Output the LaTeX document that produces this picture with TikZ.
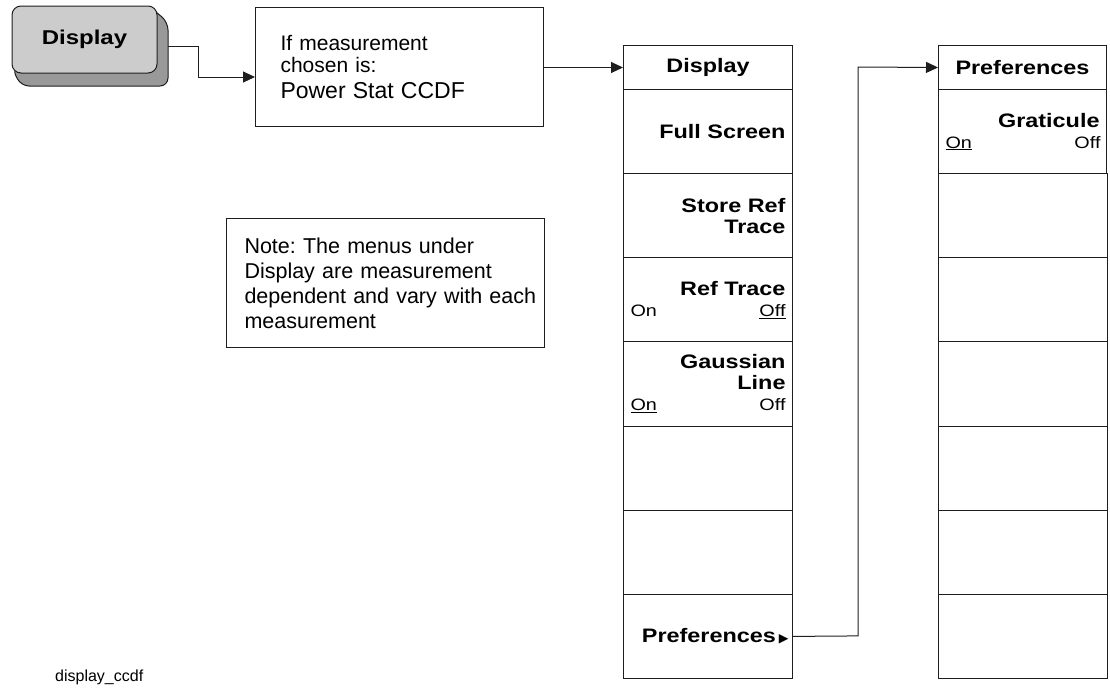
\documentclass[tikz,border=0pt]{standalone}
\usepackage{fontspec}
\setmainfont{Liberation Sans}
\newfontfamily\menufont[FakeStretch=1.2]{Liberation Sans}
\newfontfamily\symfont{DejaVu Sans}
\usetikzlibrary{arrows.meta,calc}
\definecolor{keyfront}{RGB}{204,204,204}
\definecolor{keyshadow}{RGB}{153,153,153}
\definecolor{edge}{RGB}{30,30,30}
\tikzset{
  conn/.style={draw=edge, line width=1},
  arr/.style={conn, -{Triangle[length=12,width=11]}},
  plainbox/.style={draw=edge, line width=1, anchor=north west, inner ysep=0, font=\frenchspacing\fontsize{21.5}{25}\selectfont, align=left},
  menuhead/.style={draw=edge, line width=1, anchor=north west, minimum width=169, minimum height=44, inner sep=0,
     font=\menufont\bfseries\fontsize{19.5}{21}\selectfont},
  softkey/.style={draw=edge, line width=1, anchor=north west, minimum width=169, minimum height=84.14,
     inner xsep=7, inner ysep=0, text width=155, align=right,
     font=\menufont\bfseries\fontsize{19.5}{21}\selectfont},
  hardkey/.style={draw=edge, line width=1, fill=keyfront, rounded corners=9, minimum width=145, minimum height=67,
     inner sep=0, font=\menufont\bfseries\fontsize{20}{22}\selectfont},
  caption/.style={anchor=base west, inner sep=0, font=\fontsize{16}{18}\selectfont}
}
\newcommand{\onoff}[2]{\par\makebox[155pt]{\menufont\mdseries\fontsize{16.5}{21}\selectfont #1\hfill #2}}
\begin{document}
\begin{tikzpicture}[x=1pt,y=-1pt]
\useasboundingbox (0,0) rectangle (1110,694);
% hardkey with 3D shadow
\filldraw[draw=edge, line width=1, fill=keyshadow, rounded corners=8]
  (150,7) -- (168,22) -- (168,86) -- (21,86) -- (12,68) -- cycle;
\node[hardkey] (hk) at (84.5,39.5) {Display};
\coordinate (hkout) at (168,46);
% info box
\node[plainbox, minimum width=288, minimum height=119, inner xsep=25, text width=238] (info) at (255,7)
  {\fontsize{21}{22}\selectfont If measurement\\chosen is:\\[1pt]{\fontsize{23}{25}\selectfont Power Stat CCDF}};
\coordinate (infoin) at (255,77);
\draw[arr] (hkout) -- (198,46) -- (198,77) -- (infoin);
% note box
\node[plainbox, minimum width=318, minimum height=129, inner xsep=18, text width=282] (note) at (226,218)
  {Note: The menus under\\Display are measurement\\dependent~and~vary~with~each\\measurement};
% Display menu
\node[menuhead] (dm0) at (623,45) {Display};
\node[softkey] (dm1) at (623,89) {Full Screen};
\node[softkey] (dm2) at (623,173.14) {Store Ref\\Trace};
\node[softkey] (dm3) at (623,257.28) {Ref Trace\onoff{On}{\underline{Off}}};
\node[softkey] (dm4) at (623,341.42) {Gaussian\\Line\onoff{\underline{On}}{Off}};
\node[softkey] (dm5) at (623,425.56) {};
\node[softkey] (dm6) at (623,509.70) {};
\node[softkey, inner xsep=4, text width=161] (dm7) at (623,593.84) {Preferences\hspace{3pt}{\symfont\fontsize{12.5}{12}\selectfont ▶}};
% Preferences menu
\node[menuhead, minimum width=168] (pm0) at (938,45) {Preferences};
\node[softkey, minimum width=168, text width=154] (pm1) at (938,89) {Graticule\onoff{\underline{On}}{Off}};
\node[softkey, minimum width=168] (pm2) at (938,173.14) {};
\node[softkey, minimum width=168] (pm3) at (938,257.28) {};
\node[softkey, minimum width=168] (pm4) at (938,341.42) {};
\node[softkey, minimum width=168] (pm5) at (938,425.56) {};
\node[softkey, minimum width=168] (pm6) at (938,509.70) {};
\node[softkey, minimum width=168] (pm7) at (938,593.84) {};
% connectors
\draw[arr] (info.east |- dm0.west) -- (dm0.west);
\draw[arr] (dm7.east) -- (858,635.9) -- (858,67) -- (pm0.west);
% caption
\node[caption] (cap) at (55,681) {display\_ccdf};
\end{tikzpicture}
\end{document}
